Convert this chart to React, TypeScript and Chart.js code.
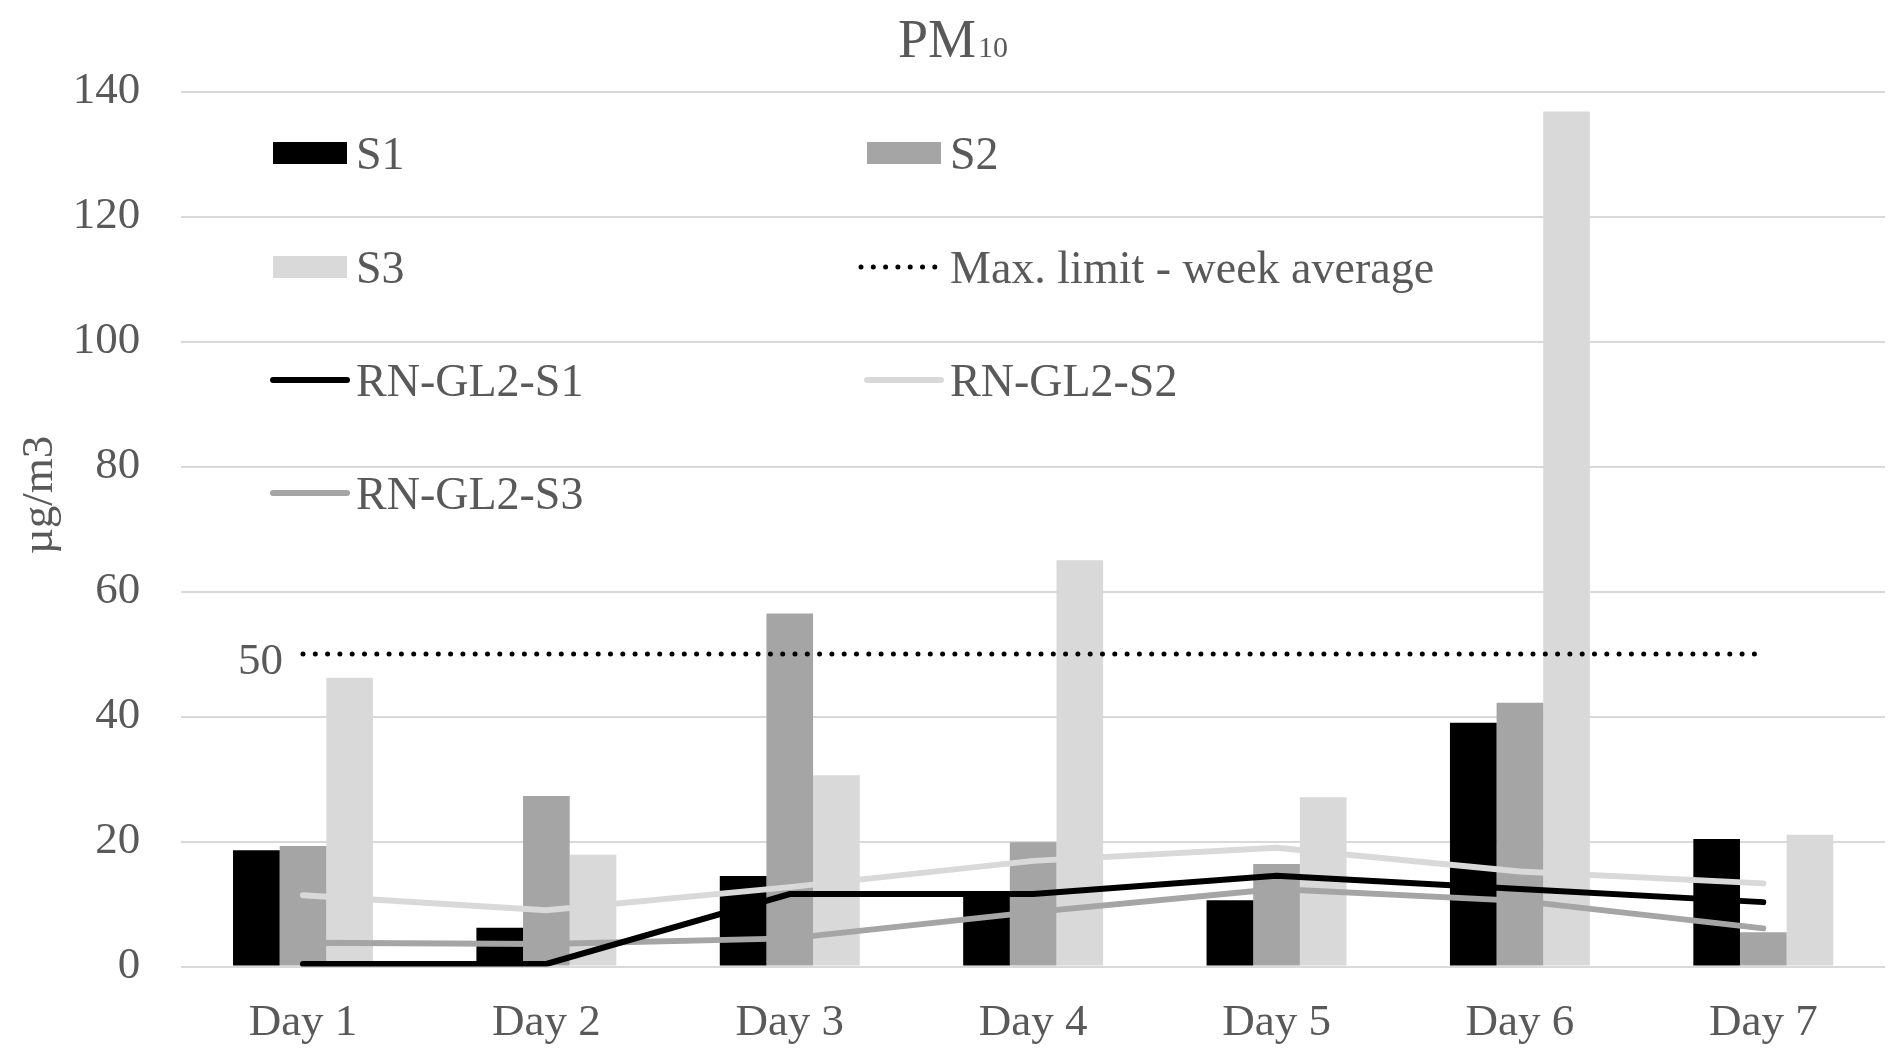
import React, { useEffect, useRef } from "react";
import { Chart, registerables } from "chart.js";

Chart.register(...registerables);

// ---- data ----
const categories = ["Day 1", "Day 2", "Day 3", "Day 4", "Day 5", "Day 6", "Day 7"];
const s1Values = [18.6, 6.2, 14.5, 11.6, 10.6, 39.0, 20.4];
const s2Values = [19.3, 27.3, 56.5, 19.9, 16.4, 42.2, 5.5];
const s3Values = [46.2, 17.9, 30.6, 65.0, 27.1, 136.8, 21.1];
const maxLimitValues = [50, 50, 50, 50, 50, 50, 50];
const rnS1Values = [0.4, 0.4, 11.6, 11.6, 14.5, 12.4, 10.3];
const rnS2Values = [11.4, 9.0, 12.7, 16.9, 19.0, 15.2, 13.3];
const rnS3Values = [3.8, 3.6, 4.5, 8.7, 12.4, 10.5, 6.1];
const yMin = 0;
const yMax = 140;
const yStep = 20;
const titleMain = "PM";
const titleSub = "10";
const yAxisTitle = "µg/m3";
const limitLabel = "50";

const FONT = "'Liberation Serif', 'Times New Roman', serif";
const TEXT_COLOR = "#595959";

const overlayPlugin = {
  id: "overlay",
  afterDraw(chart: any) {
    const ctx = chart.ctx as CanvasRenderingContext2D;
    ctx.save();
    // title
    ctx.fillStyle = TEXT_COLOR;
    ctx.textBaseline = "alphabetic";
    ctx.textAlign = "left";
    ctx.font = `54px ${FONT}`;
    const tx = 898;
    ctx.fillText(titleMain, tx, 57);
    const w = ctx.measureText(titleMain).width;
    ctx.font = `30px ${FONT}`;
    ctx.fillText(titleSub, tx + w + 2, 57);

    // y axis title
    ctx.save();
    ctx.translate(52, 495);
    ctx.rotate(-Math.PI / 2);
    ctx.textAlign = "center";
    ctx.font = `45px ${FONT}`;
    ctx.fillText(yAxisTitle, 0, 0);
    ctx.restore();

    // limit label
    const limitIdx = chart.data.datasets.findIndex((d: any) => d.label === "Max. limit - week average");
    if (limitIdx >= 0) {
      const meta = chart.getDatasetMeta(limitIdx);
      const p = meta.data[0];
      if (p) {
        ctx.font = `45px ${FONT}`;
        ctx.textAlign = "right";
        ctx.fillText(limitLabel, p.x - 20, p.y + 19.5);
      }
    }

    // legend (2 columns inside the plot)
    const colX = [273, 867];
    const rowY = [153, 267, 380, 493];
    const markerW = 74;
    ctx.font = `46px ${FONT}`;
    ctx.textAlign = "left";
    chart.data.datasets.forEach((ds: any, i: number) => {
      const col = i % 2;
      const row = Math.floor(i / 2);
      const x = colX[col];
      const y = rowY[row];
      if (ds.type === "bar") {
        ctx.fillStyle = ds.backgroundColor;
        ctx.fillRect(x, y - 11, markerW, 22);
      } else {
        ctx.save();
        ctx.strokeStyle = ds.borderColor;
        ctx.lineWidth = ds.borderWidth;
        ctx.lineCap = ds.borderCapStyle || "butt";
        ctx.setLineDash(ds.borderDash || []);
        ctx.beginPath();
        ctx.moveTo(x + (ds.borderDash && ds.borderDash.length ? -6 : 0), y);
        ctx.lineTo(x + markerW, y);
        ctx.stroke();
        ctx.restore();
      }
      ctx.fillStyle = TEXT_COLOR;
      ctx.fillText(ds.label, x + 83, y + 16);
    });
    ctx.restore();
  },
};

export default function App() {
  const canvasRef = useRef<HTMLCanvasElement | null>(null);

  useEffect(() => {
    document.body.style.margin = "0";
    document.body.style.overflow = "hidden";
    const canvas = canvasRef.current;
    if (!canvas) return;

    const chart = new Chart(canvas, {
      type: "bar",
      data: {
        labels: categories,
        datasets: [
          { type: "bar", label: "S1", data: s1Values, backgroundColor: "#000000", order: 3 } as any,
          { type: "bar", label: "S2", data: s2Values, backgroundColor: "#a5a5a5", order: 3 } as any,
          { type: "bar", label: "S3", data: s3Values, backgroundColor: "#d9d9d9", order: 3 } as any,
          {
            type: "line",
            label: "Max. limit - week average",
            data: maxLimitValues,
            borderColor: "#000000",
            borderWidth: 5,
            borderDash: [0, 12.3],
            borderCapStyle: "round",
            pointRadius: 0,
            tension: 0,
            fill: false,
            order: 0,
          } as any,
          {
            type: "line",
            label: "RN-GL2-S1",
            data: rnS1Values,
            borderColor: "#000000",
            borderWidth: 6,
            borderCapStyle: "round",
            pointRadius: 0,
            tension: 0,
            fill: false,
            order: 1,
          } as any,
          {
            type: "line",
            label: "RN-GL2-S2",
            data: rnS2Values,
            borderColor: "#d9d9d9",
            borderWidth: 6,
            borderCapStyle: "round",
            pointRadius: 0,
            tension: 0,
            fill: false,
            order: 2,
          } as any,
          {
            type: "line",
            label: "RN-GL2-S3",
            data: rnS3Values,
            borderColor: "#a5a5a5",
            borderWidth: 6,
            borderCapStyle: "round",
            pointRadius: 0,
            tension: 0,
            fill: false,
            order: 2,
          } as any,
        ],
      },
      options: {
        animation: false,
        responsive: true,
        maintainAspectRatio: false,
        layout: { padding: { top: 91.5, right: 4, bottom: 0, left: 0 } },
        datasets: {
          bar: { categoryPercentage: 0.575, barPercentage: 1 },
        } as any,
        plugins: {
          legend: { display: false },
          title: { display: false },
          tooltip: { enabled: false },
        },
        scales: {
          x: {
            grid: { display: false, drawTicks: false },
            border: { display: false },
            ticks: {
              color: TEXT_COLOR,
              font: { family: FONT, size: 45 },
              padding: 30,
              maxRotation: 0,
            },
            afterFit: (scale: any) => {
              scale.height = 96.5;
            },
          },
          y: {
            min: yMin,
            max: yMax,
            grid: { color: "#d9d9d9", lineWidth: 2, drawTicks: false },
            border: { display: false },
            ticks: {
              stepSize: yStep,
              color: TEXT_COLOR,
              font: { family: FONT, size: 45 },
              padding: 41,
            },
            afterFit: (scale: any) => {
              scale.width = 181.3;
            },
          },
        },
      },
      plugins: [overlayPlugin],
    });

    return () => {
      chart.destroy();
    };
  }, []);

  return (
    <div style={{ position: "relative", width: "1889px", height: "1063px", background: "#ffffff" }}>
      <canvas ref={canvasRef} />
    </div>
  );
}
